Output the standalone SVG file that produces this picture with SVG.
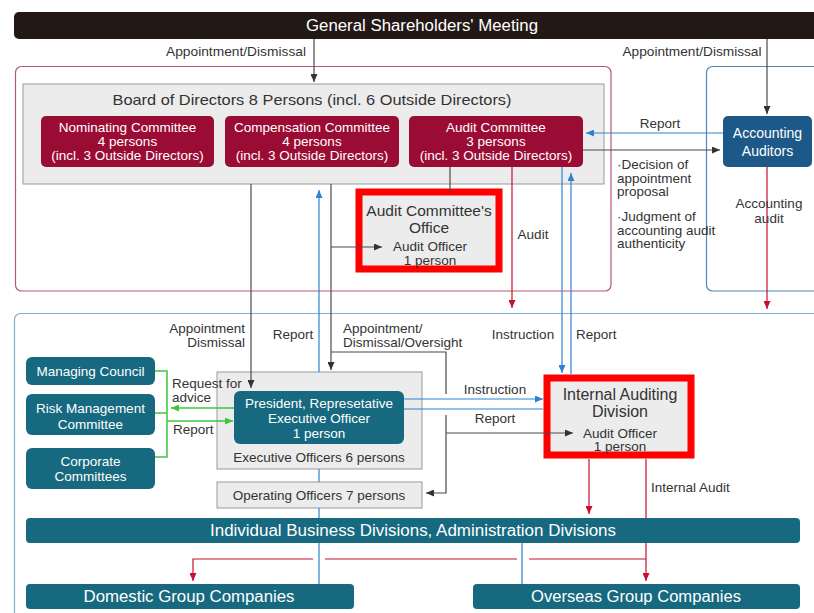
<svg xmlns="http://www.w3.org/2000/svg" width="814" height="613" viewBox="0 0 814 613">
<defs>
<marker id="ak" markerUnits="userSpaceOnUse" markerWidth="9" markerHeight="7" refX="8" refY="3.5" orient="auto"><path d="M0,0 L8,3.5 L0,7 z" fill="#333"/></marker>
<marker id="ab" markerUnits="userSpaceOnUse" markerWidth="9" markerHeight="7" refX="8" refY="3.5" orient="auto"><path d="M0,0 L8,3.5 L0,7 z" fill="#2b83d3"/></marker>
<marker id="ar" markerUnits="userSpaceOnUse" markerWidth="9" markerHeight="7" refX="8" refY="3.5" orient="auto"><path d="M0,0 L8,3.5 L0,7 z" fill="#c8102e"/></marker>
<marker id="ag" markerUnits="userSpaceOnUse" markerWidth="9" markerHeight="7" refX="8" refY="3.5" orient="auto"><path d="M0,0 L8,3.5 L0,7 z" fill="#3ec63e"/></marker>
</defs>
<style>
text{font-family:"Liberation Sans","Noto Sans",Arial,sans-serif;font-size:13.5px;fill:#333}
.w{fill:#fff}
.c{text-anchor:middle}
.e{text-anchor:end}
.crim{fill:#9b0c35}
.teal{fill:#16697f}
.gbox{fill:#ececec;stroke:#9a9a9a;stroke-width:1}
.hl{fill:none;stroke:#ff0000;stroke-width:7}
.lk{stroke:#4a4a4a;stroke-width:1.2;fill:none}
.lb{stroke:#2b83d3;stroke-width:1.2;fill:none}
.lr{stroke:#c8102e;stroke-width:1.2;fill:none}
.lg{stroke:#3ec63e;stroke-width:1.5;fill:none}
</style>
<rect width="814" height="613" fill="#fff"/>

<g id="frames">
<rect x="15.5" y="66.5" width="595.5" height="224.5" rx="6" fill="none" stroke="#b8577a" stroke-width="1.2"/>
<rect x="706.5" y="66.5" width="130" height="224.5" rx="6" fill="none" stroke="#4f88bb" stroke-width="1.2"/>
<rect x="14.5" y="313.5" width="830" height="320" rx="6" fill="none" stroke="#7db0cc" stroke-width="1.2"/>
</g>

<g id="shareholders">
<rect x="14" y="12" width="830" height="27" rx="5" fill="#231816"/>
<text x="422" y="30.5" class="w c" style="font-size:16px" textLength="232" lengthAdjust="spacingAndGlyphs">General Shareholders' Meeting</text>
</g>

<g id="board">
<rect x="23" y="84" width="581" height="100" class="gbox"/>
<text x="312" y="105" class="c" style="font-size:15px" textLength="399" lengthAdjust="spacingAndGlyphs">Board of Directors 8 Persons (incl. 6 Outside Directors)</text>
</g>

<g id="nominating">
<rect x="41" y="116" width="173" height="51" rx="5" class="crim"/>
<text x="127.5" y="131.5" class="w c">Nominating Committee</text>
<text x="127.5" y="145.5" class="w c">4 persons</text>
<text x="127.5" y="159.5" class="w c">(incl. 3 Outside Directors)</text>
</g>

<g id="compensation">
<rect x="225" y="116" width="174" height="51" rx="5" class="crim"/>
<text x="312" y="131.5" class="w c">Compensation Committee</text>
<text x="312" y="145.5" class="w c">4 persons</text>
<text x="312" y="159.5" class="w c">(incl. 3 Outside Directors)</text>
</g>

<g id="audit-committee">
<rect x="409" y="116" width="174" height="51" rx="5" class="crim"/>
<text x="496" y="131.5" class="w c">Audit Committee</text>
<text x="496" y="145.5" class="w c">3 persons</text>
<text x="496" y="159.5" class="w c">(incl. 3 Outside Directors)</text>
</g>

<g id="accounting-auditors">
<rect x="723" y="116" width="89" height="51" rx="5" fill="#1c5888"/>
<text x="767.5" y="138" class="w c" style="font-size:14px">Accounting</text>
<text x="767.5" y="156" class="w c" style="font-size:14px">Auditors</text>
</g>

<g id="audit-office">
<rect x="359" y="192" width="140" height="77" fill="#ececec"/>
<rect x="359" y="192" width="140" height="77" class="hl"/>
<text x="429" y="215.5" class="c" style="font-size:15.5px">Audit Committee's</text>
<text x="429" y="232.5" class="c" style="font-size:15.5px">Office</text>
<text x="430" y="251" class="c">Audit Officer</text>
<text x="430" y="264.5" class="c">1 person</text>
</g>

<g id="executive-officers">
<rect x="217" y="372" width="205" height="97" class="gbox"/>
<text x="319" y="461.5" class="c">Executive Officers 6 persons</text>
</g>

<g id="operating-officers">
<rect x="217" y="482" width="205" height="26" class="gbox"/>
<text x="319" y="499.5" class="c">Operating Officers 7 persons</text>
</g>

<g id="president">
<rect x="234" y="391" width="170" height="53" rx="6" class="teal"/>
<text x="319" y="407.5" class="w c">President, Represetative</text>
<text x="319" y="422.5" class="w c">Executive Officer</text>
<text x="319" y="437.5" class="w c">1 person</text>
</g>

<g id="internal-auditing">
<rect x="547" y="378" width="144" height="77" fill="#ececec"/>
<rect x="547" y="378" width="144" height="77" class="hl"/>
<text x="620" y="400" class="c" style="font-size:16px">Internal Auditing</text>
<text x="620" y="417" class="c" style="font-size:16px">Division</text>
<text x="620" y="437.5" class="c">Audit Officer</text>
<text x="620" y="451" class="c">1 person</text>
</g>

<g id="managing-council">
<rect x="26" y="357" width="129" height="28" rx="6" class="teal"/>
<text x="90.5" y="375.5" class="w c">Managing Council</text>
</g>

<g id="risk-management">
<rect x="26" y="394" width="129" height="41" rx="6" class="teal"/>
<text x="90.5" y="413" class="w c">Risk Management</text>
<text x="90.5" y="428.5" class="w c">Committee</text>
</g>

<g id="corporate-committees">
<rect x="26" y="448" width="129" height="41" rx="6" class="teal"/>
<text x="90.5" y="466" class="w c">Corporate</text>
<text x="90.5" y="481" class="w c">Committees</text>
</g>

<g id="business-divisions">
<rect x="26" y="518" width="774" height="25" rx="4" class="teal"/>
<text x="413" y="536" class="w c" style="font-size:16px" textLength="406" lengthAdjust="spacingAndGlyphs">Individual Business Divisions, Administration Divisions</text>
</g>

<g id="domestic">
<rect x="26" y="584" width="328" height="25" rx="4" class="teal"/>
<text x="189" y="602" class="w c" style="font-size:16px" textLength="211" lengthAdjust="spacingAndGlyphs">Domestic Group Companies</text>
</g>

<g id="overseas">
<rect x="473" y="584" width="327" height="25" rx="4" class="teal"/>
<text x="636" y="602" class="w c" style="font-size:16px" textLength="210" lengthAdjust="spacingAndGlyphs">Overseas Group Companies</text>
</g>

<g id="connectors">
<path d="M314,39 V82" class="lk" marker-end="url(#ak)"/>
<path d="M767,39 V114" class="lk" marker-end="url(#ak)"/>
<path d="M723,133 H586" class="lb" marker-end="url(#ab)"/>
<path d="M583,150 H720" class="lk" marker-end="url(#ak)"/>
<path d="M767,167 V309" class="lr" marker-end="url(#ar)"/>
<path d="M450,167 V192" class="lk"/>
<path d="M331,247 H382" class="lk" marker-end="url(#ak)"/>
<path d="M512,167 V308" class="lr" marker-end="url(#ar)"/>
<path d="M562,167 V373" class="lb" marker-end="url(#ab)"/>
<path d="M571,374 V173" class="lb" marker-end="url(#ab)"/>
<path d="M251,184 V388" class="lk" marker-end="url(#ak)"/>
<path d="M331,184 V370" class="lk" marker-end="url(#ak)"/>
<path d="M319,372 V190" class="lb" marker-end="url(#ab)"/>
<path d="M319,469 V482 M319,508 V518 M319,543 V584 M522,543 V584" class="lb"/>
<path d="M331,352 H446 V394" class="lk"/>
<path d="M446,415 V493 H426" class="lk" marker-end="url(#ak)"/>
<path d="M446,433 H573" class="lk" marker-end="url(#ak)"/>
<path d="M404,399 H543" class="lb" marker-end="url(#ab)"/>
<path d="M543,409 H404" class="lb"/>
<path d="M589,459 V514" class="lr" marker-end="url(#ar)"/>
<path d="M646,459 V518" class="lr"/>
<path d="M646,543 V581" class="lr" marker-end="url(#ar)"/>
<path d="M646,559 H529 M517,559 H325" class="lr"/>
<path d="M313,559 H193 V581" class="lr" marker-end="url(#ar)"/>
<path d="M155,371 H167 V457 H155 M155,413 H167" class="lg"/>
<path d="M234,408 H171" class="lg" marker-end="url(#ag)"/>
<path d="M167,421 H233" class="lg" marker-end="url(#ag)"/>
</g>

<g id="labels">
<text x="236" y="55.5" class="c" textLength="140" lengthAdjust="spacingAndGlyphs">Appointment/Dismissal</text>
<text x="692" y="55.5" class="c" textLength="139" lengthAdjust="spacingAndGlyphs">Appointment/Dismissal</text>
<text x="660" y="127.5" class="c">Report</text>
<text x="617" y="169">·Decision of</text>
<text x="617" y="182.5">appointment</text>
<text x="617" y="196">proposal</text>
<text x="617" y="221">·Judgment of</text>
<text x="617" y="234.5">accounting audit</text>
<text x="617" y="248">authenticity</text>
<text x="769" y="208" class="c">Accounting</text>
<text x="769" y="223" class="c">audit</text>
<text x="533" y="238.5" class="c">Audit</text>
<text x="245" y="333" class="e">Appointment</text>
<text x="245" y="347" class="e">Dismissal</text>
<text x="293" y="338.5" class="c">Report</text>
<text x="343" y="333">Appointment/</text>
<text x="343" y="347">Dismissal/Oversight</text>
<text x="523" y="338.5" class="c">Instruction</text>
<text x="576" y="338.5">Report</text>
<text x="495" y="393.5" class="c">Instruction</text>
<text x="495" y="422.5" class="c">Report</text>
<text x="172" y="388">Request for</text>
<text x="172" y="402">advice</text>
<text x="173" y="433.5">Report</text>
<text x="651" y="491.5">Internal Audit</text>
</g>
</svg>
